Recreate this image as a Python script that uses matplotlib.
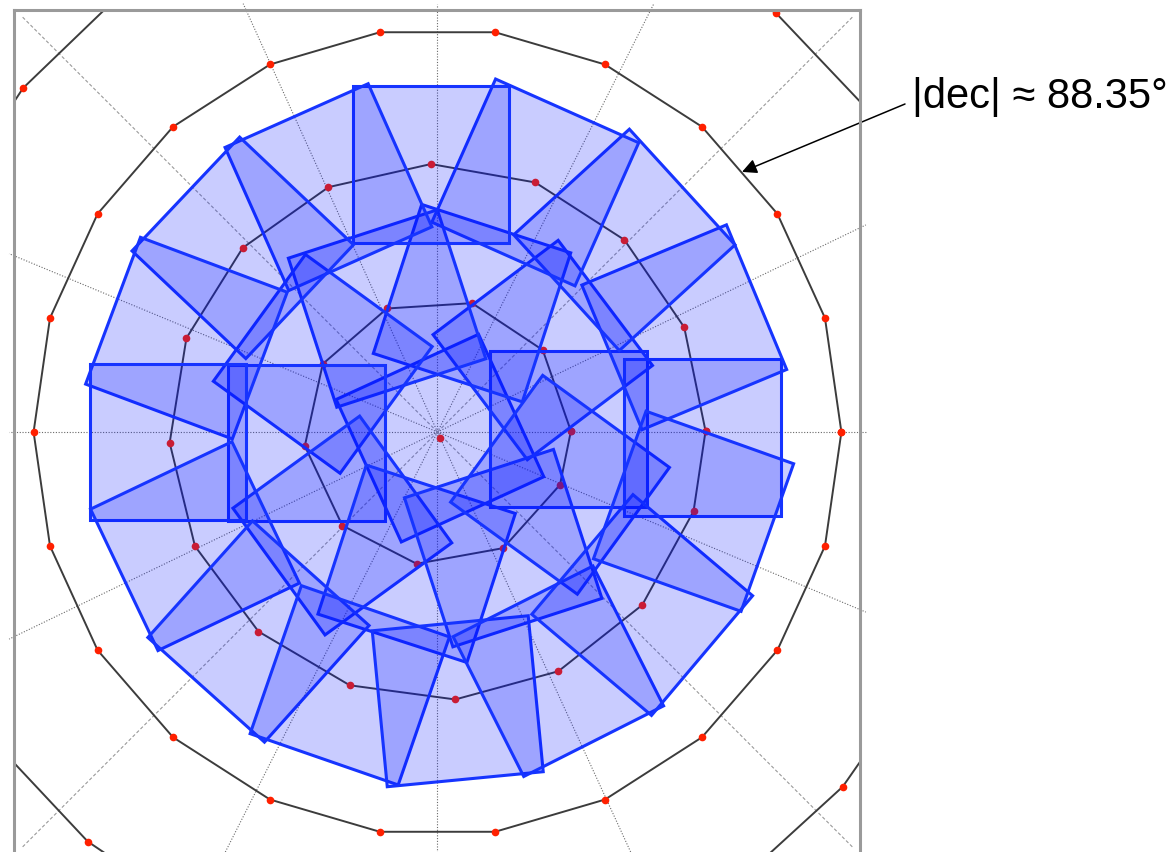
import numpy as np
import matplotlib.pyplot as plt
from matplotlib.patches import Polygon

# ring radii in degrees from the pole
r1, r2, r3, r4 = 0.545, 1.095, 1.65, 2.2

# position angles (deg) of the vertices on each ring
ring1_pa = [0.4, 37.9, 75.0, 112.2, 149.3, 186.0, 224.5, 261.0, 299.5, 336.7]
ring2_pa = [0.2, 23.0, 45.8, 68.6, 91.4, 114.0, 136.6, 159.5,
            182.3, 205.2, 228.1, 250.9, 273.8, 296.8, 319.8, 342.8]
ring3_pa = [0.0, 16.4, 32.7, 49.1, 65.5, 81.8, 98.2, 114.5, 130.9, 147.3, 163.6,
            180.0, 196.4, 212.7, 229.1, 245.5, 261.8, 278.2, 294.5, 310.9, 327.3, 343.6]
ring4_pa = [36.0, 51.0, 63.8, 76.5, 89.3, 102.0, 114.8, 127.5, 140.3, 153.0, 165.8,
            178.5, 191.3, 204.0, 216.8, 229.5, 242.3, 255.0, 267.8, 280.5, 293.3,
            306.0, 318.8, 331.5, 344.3, 357.0, 9.8, 22.5]

# meridian guide lines
merid_dotted = [0, 25.8, 63.2, 90, 114.4, 157.4, 180, 205.8, 243.2, 270, 294.7, 337.2]
merid_dashed = [45, 135, 225, 315]

# pole pointing
pole_xy = (0.01, -0.025)
pole_rot = 24.6

# camera footprints: centre radius, centre position angle, rotation (deg)
inner_r = [0.535, 0.545, 0.545, 0.545, 0.545, 0.536, 0.545, 0.545, 0.545, 0.545]
inner_pa = [1.3, 37.9, 75.0, 112.2, 149.3, 184.8, 224.5, 261.0, 299.5, 336.7]
inner_rot = [0, 37, 72, 108, 144, 180, 216, 252, 288, 324]

outer_r = [1.083, 1.095, 1.095, 1.095, 1.093, 1.095, 1.095, 1.095,
           1.102, 1.095, 1.095, 1.095, 1.103, 1.095, 1.095, 1.095]
outer_pa = [-1.2, 23.0, 45.8, 68.6, 91.4, 114.0, 136.6, 159.5,
            182.1, 205.2, 228.1, 250.9, 274.3, 296.8, 319.8, 342.8]
outer_rot = [0, 22.6, 42.4, 66, 90, 114, 136.6, 159.5,
             180, 205.5, 228.1, 250.9, 275.5, 296.8, 319.8, 340.4]

fov = 0.64
label = "|dec| \u2248 88.35\u00b0"


def polar(r, pa):
    t = np.radians(pa)
    return r * np.cos(t), r * np.sin(t)


def footprint(cx, cy, rot, side):
    h = side / 2
    c = np.array([[-h, -h], [h, -h], [h, h], [-h, h]])
    t = np.radians(rot)
    R = np.array([[np.cos(t), -np.sin(t)], [np.sin(t), np.cos(t)]])
    return c @ R.T + [cx, cy]


fig = plt.figure(figsize=(11.72, 8.53), dpi=100)
ax = fig.add_axes([14 / 1172, -3 / 853, 846 / 1172, 845 / 853])
ax.set_xlim(-1.730, 1.726)
ax.set_ylim(-1.728, 1.724)
ax.set_xticks([])
ax.set_yticks([])
for s in ax.spines.values():
    s.set_color('#9a9a9a')
    s.set_linewidth(2.2)
    s.set_zorder(10)

# meridians out to a box just past the frame
for a in merid_dotted:
    t = np.radians(a)
    L = 1.75 / max(abs(np.cos(t)), abs(np.sin(t)))
    ax.plot([0, L * np.cos(t)], [0, L * np.sin(t)], color='#6a6a6a', lw=0.8,
            ls=(0, (1, 1.5)), clip_on=False, zorder=1)
for a in merid_dashed:
    t = np.radians(a)
    ax.plot([0, 2.4 * np.cos(t)], [0, 2.4 * np.sin(t)], color='#9a9a9a', lw=0.8,
            ls=(0, (3, 2)), zorder=1)

# dec rings
for r, pa, closed in [(r1, ring1_pa, True), (r2, ring2_pa, True),
                      (r3, ring3_pa, True), (r4, ring4_pa, False)]:
    x, y = polar(r, np.array(pa))
    if closed:
        x, y = np.append(x, x[0]), np.append(y, y[0])
    ax.plot(x, y, color='#3c3c3c', lw=1.4, zorder=2)
    ax.plot(x, y, 'o', color='#ff2000', ms=5.5, mec='none', zorder=2.5)
ax.plot(*pole_xy, 'o', color='#ff2000', ms=5.5, mec='none', zorder=2.5)

# footprints
centres = [pole_xy] + [polar(r, p) for r, p in zip(inner_r + outer_r, inner_pa + outer_pa)]
rots = [pole_rot] + inner_rot + outer_rot
for (cx, cy), rot in zip(centres, rots):
    ax.add_patch(Polygon(footprint(cx, cy, rot, fov), closed=True,
                         facecolor=(0.0, 0.06, 1.0, 0.21),
                         edgecolor='#1634ff', lw=2.2, zorder=3))

# label and arrow pointing at the outer ring
tip = polar(1.636, 40.5)
ax.annotate('', xy=tip, xycoords='data', xytext=(905, 853 - 105),
            textcoords='figure pixels',
            arrowprops=dict(arrowstyle='-|>', color='black', lw=1.1,
                            mutation_scale=22, shrinkA=0, shrinkB=0),
            annotation_clip=False)
fig.text(912 / 1172, 1 - 97 / 853, label, fontsize=30,
         family=['Liberation Sans', 'DejaVu Sans'], va='center', ha='left')

fig.savefig('out.png', dpi=100)
